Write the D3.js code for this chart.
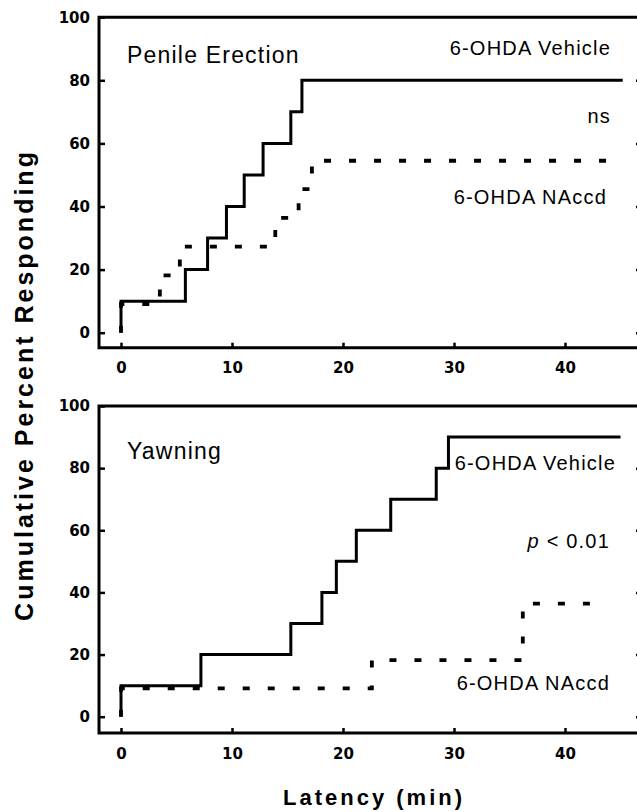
<!DOCTYPE html>
<html>
<head>
<meta charset="utf-8">
<script src="https://cdn.jsdelivr.net/npm/d3@7"></script>
<style>
body { margin: 0; background: #fff; }
</style>
</head>
<body>
<script>
var latency_ticks = [0, 10, 20, 30, 40];
var percent_ticks = [0, 20, 40, 60, 80, 100];

// Penile erection: time of each step (min) and cumulative % after it
var pe_vehicle_t = [0, 5.8, 7.8, 9.5, 11.1, 12.8, 15.3, 16.3];
var pe_vehicle_p = [10, 20, 30, 40, 50, 60, 70, 80];
var pe_vehicle_end = 45.2;
var pe_naccd_t = [0, 3.5, 5.3, 13.9, 16.0, 17.2];
var pe_naccd_p = [9.1, 18.2, 27.3, 36.4, 45.5, 54.5];
var pe_naccd_end = 44.5;

// Yawning
var yw_vehicle_t = [0, 7.2, 15.3, 18.1, 19.4, 21.2, 24.3, 28.4, 29.5];
var yw_vehicle_p = [10, 20, 30, 40, 50, 60, 70, 80, 90];
var yw_vehicle_end = 45.0;
var yw_naccd_t = [0, 22.6, 36.2];
var yw_naccd_p = [9.1, 18.2, 36.4];
var yw_naccd_end = 43.1;

var W = 637, H = 812;
var left = 99, right = 642;

var svg = d3.select("body").append("svg")
    .attr("width", W).attr("height", H)
    .style("display", "block");

var x = d3.scaleLinear().domain([0, 40]).range([121, 565]);

function steps(t, p, end) {
    var pts = [[t[0], 0]];
    t.forEach(function(d, i) { pts.push([d, p[i]]); });
    pts.push([end, p[p.length - 1]]);
    return pts;
}

var panels = [
    { top: 17.2, zero: 332.7, axis: 347.7, title: "Penile Erection", titleY: 63,
      vehicle: steps(pe_vehicle_t, pe_vehicle_p, pe_vehicle_end),
      naccd: steps(pe_naccd_t, pe_naccd_p, pe_naccd_end),
      notes: [
        { text: "6-OHDA Vehicle", x: 611, y: 55 },
        { text: "ns", x: 611, y: 123 },
        { text: "6-OHDA NAccd", x: 607, y: 204 }
      ] },
    { top: 406, zero: 716.7, axis: 733, title: "Yawning", titleY: 459,
      vehicle: steps(yw_vehicle_t, yw_vehicle_p, yw_vehicle_end),
      naccd: steps(yw_naccd_t, yw_naccd_p, yw_naccd_end),
      notes: [
        { text: "6-OHDA Vehicle", x: 616, y: 470 },
        { text: "p", x: 610, y: 548, italic: true },
        { text: "6-OHDA NAccd", x: 610, y: 690 }
      ] }
];

panels.forEach(function(pn) {
    var y = d3.scaleLinear().domain([0, 100]).range([pn.zero, pn.top]);
    var g = svg.append("g");

    var line = d3.line()
        .x(function(d) { return x(d[0]); })
        .y(function(d) { return y(d[1]); })
        .curve(d3.curveStepAfter);

    // frame
    g.append("path")
        .attr("d", "M" + left + "," + pn.top + "H" + right + "V" + pn.axis + "H" + left + "Z")
        .attr("fill", "none").attr("stroke", "#000").attr("stroke-width", 3);

    var xa = g.append("g")
        .attr("transform", "translate(0," + pn.axis + ")")
        .call(d3.axisBottom(x).tickValues(latency_ticks).tickSizeInner(-5).tickSizeOuter(0).tickPadding(15));
    var ya = g.append("g")
        .attr("transform", "translate(" + left + ",0)")
        .call(d3.axisLeft(y).tickValues(percent_ticks).tickSizeInner(-6).tickSizeOuter(0).tickPadding(9));
    var ra = g.append("g")
        .attr("transform", "translate(" + right + ",0)")
        .call(d3.axisRight(y).tickValues(percent_ticks.slice(0, 5)).tickSizeInner(-6).tickSizeOuter(0).tickFormat(""));

    [xa, ya, ra].forEach(function(a) {
        a.select(".domain").remove();
        a.selectAll(".tick line").attr("stroke", "#000").attr("stroke-width", 2.5);
        a.selectAll(".tick text")
            .attr("fill", "#000")
            .style("font-family", "'DejaVu Sans', sans-serif")
            .style("font-weight", "bold")
            .style("font-size", "15px");
    });

    g.append("path")
        .datum(pn.naccd)
        .attr("d", line)
        .attr("fill", "none").attr("stroke", "#000")
        .attr("stroke-width", 3.8)
        .attr("stroke-dasharray", "7,18");

    g.append("path")
        .datum(pn.vehicle)
        .attr("d", line)
        .attr("fill", "none").attr("stroke", "#000")
        .attr("stroke-width", 3);

    g.append("text")
        .attr("x", 127).attr("y", pn.titleY)
        .style("font-family", "'Liberation Sans', Arial, sans-serif")
        .style("font-size", "23px")
        .style("letter-spacing", "1.2px")
        .text(pn.title);

    pn.notes.forEach(function(n) {
        var t = g.append("text")
            .attr("x", n.x).attr("y", n.y)
            .attr("text-anchor", "end")
            .style("font-family", "'Liberation Sans', Arial, sans-serif")
            .style("font-size", "20px")
            .style("letter-spacing", "1.2px");
        if (n.italic) {
            t.append("tspan").style("font-style", "italic").text("p");
            t.append("tspan").text(" < 0.01");
        } else {
            t.text(n.text);
        }
    });
});

svg.append("text")
    .attr("transform", "translate(33,385) rotate(-90)")
    .attr("text-anchor", "middle")
    .style("font-family", "'Liberation Sans', Arial, sans-serif")
    .style("font-weight", "bold")
    .style("font-size", "25px")
    .style("letter-spacing", "3px")
    .text("Cumulative Percent Responding");

svg.append("text")
    .attr("x", 374).attr("y", 805)
    .attr("text-anchor", "middle")
    .style("font-family", "'Liberation Sans', Arial, sans-serif")
    .style("font-weight", "bold")
    .style("font-size", "22px")
    .style("letter-spacing", "3px")
    .text("Latency (min)");
</script>
</body>
</html>
